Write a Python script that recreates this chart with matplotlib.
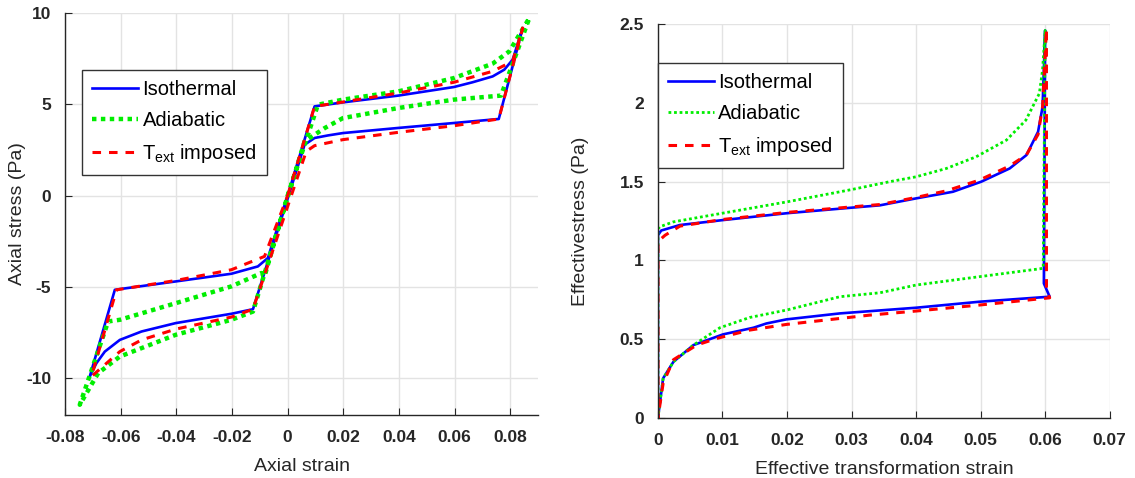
import matplotlib
matplotlib.use("Agg")
import matplotlib.pyplot as plt

plt.rcParams['font.family'] = ['Liberation Sans', 'DejaVu Sans']
plt.rcParams['mathtext.fontset'] = 'custom'
plt.rcParams['mathtext.rm'] = 'Liberation Sans'
plt.rcParams['axes.unicode_minus'] = False

# ---- left panel: axial stress vs axial strain ----
iso_strain = [0, 0.0097, 0.0199, 0.0398, 0.0598, 0.0665, 0.0737, 0.0779, 0.0809, 0.0845,
              0.0759, 0.0598, 0.0398, 0.0199, 0.0145, 0.0097, 0.0061,
              -0.01245, -0.0202, -0.0402, -0.0525, -0.0603, -0.0657, -0.0687, -0.0711,
              -0.0621, -0.0603, -0.0402, -0.0202, -0.0107, -0.0071, 0]
iso_stress = [0, 4.89, 5.11, 5.48, 5.95, 6.21, 6.53, 6.9, 7.45, 9.18,
              4.2, 3.98, 3.71, 3.43, 3.3, 3.16, 2.79,
              -6.21, -6.46, -6.97, -7.43, -7.89, -8.53, -9.16, -9.89,
              -5.15, -5.11, -4.69, -4.27, -3.87, -3.41, 0]

adi_strain = [0, 0.0109, 0.0199, 0.0398, 0.0598, 0.0737, 0.0797, 0.0869,
              0.0767, 0.0598, 0.0398, 0.0199, 0.0133, 0.0061,
              -0.01245, -0.0202, -0.0402, -0.0525, -0.0603, -0.0681, -0.0747,
              -0.0645, -0.0603, -0.0402, -0.0202, -0.0094, -0.0083, 0]
adi_stress = [0, 4.98, 5.26, 5.71, 6.44, 7.23, 7.9, 9.73,
              5.48, 5.26, 4.80, 4.25, 3.7, 2.97,
              -6.34, -6.79, -7.61, -8.34, -8.8, -9.71, -11.44,
              -6.88, -6.79, -5.88, -4.96, -4.23, -4.42, 0]

text_strain = [0, 0.0097, 0.0199, 0.0398, 0.0598, 0.0737, 0.0809, 0.0845,
               0.0759, 0.0598, 0.0398, 0.0199, 0.0097, 0.0067,
               -0.01245, -0.0202, -0.0402, -0.0525, -0.0603, -0.0657, -0.0705,
               -0.0615, -0.0402, -0.0202, -0.0083, 0]
text_stress = [0, 4.89, 5.13, 5.62, 6.21, 6.81, 7.36, 9.18,
               4.2, 3.83, 3.47, 3.07, 2.74, 2.43,
               -6.21, -6.64, -7.3, -7.89, -8.53, -9.25, -9.89,
               -5.15, -4.64, -4.05, -3.32, 0]

# ---- right panel: effective stress vs effective transformation strain ----
iso_eps = [0, 0, 0.0005, 0.0034, 0.01, 0.02, 0.03, 0.0344, 0.040, 0.0457, 0.0501, 0.0545,
           0.0571, 0.0589, 0.0596, 0.0600, 0.0598, 0.0607, 0.0498, 0.040, 0.0282, 0.0199,
           0.0168, 0.0148, 0.0101, 0.0055, 0.0024, 0.0008, 0]
iso_sig = [0, 1.16, 1.19, 1.225, 1.256, 1.30, 1.335, 1.35, 1.394, 1.436, 1.50, 1.584,
           1.669, 1.817, 1.975, 2.46, 0.854, 0.77, 0.738, 0.70, 0.664, 0.626,
           0.60, 0.573, 0.531, 0.463, 0.357, 0.252, 0]

adi_eps = [0, 0, 0.0003, 0.0024, 0.01, 0.02, 0.03, 0.0359, 0.040, 0.0447, 0.0493, 0.054,
           0.057, 0.0591, 0.0596, 0.0600, 0.0597, 0.0498, 0.040, 0.0344, 0.0282, 0.0199,
           0.0142, 0.0096, 0.0055, 0.0024, 0.0008, 0]
adi_sig = [0, 1.2, 1.214, 1.245, 1.30, 1.372, 1.45, 1.50, 1.531, 1.584, 1.658, 1.764,
           1.89, 2.06, 2.21, 2.46, 0.95, 0.897, 0.844, 0.795, 0.77, 0.685,
           0.638, 0.573, 0.463, 0.357, 0.25, 0]

text_eps = [0, 0, 0.0011, 0.0034, 0.01, 0.02, 0.03, 0.0344, 0.040, 0.0447, 0.0498, 0.0545,
            0.0571, 0.0589, 0.0596, 0.0602, 0.0602, 0.0607, 0.0498, 0.040, 0.0328, 0.0199,
            0.0142, 0.0091, 0.006, 0.0024, 0.0008, 0]
text_sig = [0, 1.12, 1.16, 1.218, 1.26, 1.305, 1.34, 1.355, 1.40, 1.442, 1.51, 1.60,
            1.67, 1.80, 1.975, 2.47, 0.81, 0.763, 0.717, 0.679, 0.653, 0.594,
            0.558, 0.505, 0.463, 0.37, 0.22, 0]

labels = ['Isothermal', 'Adiabatic', r'T$_{\mathrm{ext}}$ imposed']

left_xticks = [-0.08, -0.06, -0.04, -0.02, 0, 0.02, 0.04, 0.06, 0.08]
left_xticklabels = ['-0.08', '-0.06', '-0.04', '-0.02', '0', '0.02', '0.04', '0.06', '0.08']
left_yticks = [-10, -5, 0, 5, 10]
left_yticklabels = ['-10', '-5', '0', '5', '10']
right_xticks = [0, 0.01, 0.02, 0.03, 0.04, 0.05, 0.06, 0.07]
right_xticklabels = ['0', '0.01', '0.02', '0.03', '0.04', '0.05', '0.06', '0.07']
right_yticks = [0, 0.5, 1, 1.5, 2, 2.5]
right_yticklabels = ['0', '0.5', '1', '1.5', '2', '2.5']

fig = plt.figure(figsize=(11.35, 4.78), dpi=100)
ax1 = fig.add_axes([0.0573, 0.1318, 0.4167, 0.841])
ax2 = fig.add_axes([0.5797, 0.1255, 0.398, 0.824])


def style(ax):
    ax.grid(True, color='#e3e3e3', linewidth=1)
    ax.set_axisbelow(True)
    for s in ['top', 'right']:
        ax.spines[s].set_visible(False)
    for s in ['left', 'bottom']:
        ax.spines[s].set_color('#262626')
        ax.spines[s].set_linewidth(1)
    ax.tick_params(direction='in', length=5, color='#262626', labelcolor='#262626',
                   labelsize=12.5)
    ax.tick_params(axis='x', pad=11)
    ax.tick_params(axis='y', pad=10)
    for lab in ax.get_xticklabels() + ax.get_yticklabels():
        lab.set_fontweight('bold')


def add_legend(ax, anchor):
    leg = ax.legend(loc='upper left', bbox_to_anchor=anchor, fontsize=14.5,
                    fancybox=False, framealpha=1, edgecolor='#333333', borderpad=0.5,
                    handlelength=2.3, handletextpad=0.2, labelspacing=0.6, borderaxespad=0)
    leg.get_frame().set_linewidth(1)
    return leg


ax1.plot(iso_strain, iso_stress, color='#0000ff', lw=1.9, label=labels[0])
ax1.plot(adi_strain, adi_stress, color='#00ee00', lw=3.2, ls=(0, (1, 1)), label=labels[1])
ax1.plot(text_strain, text_stress, color='#ff0000', lw=2.2, ls=(0, (2.8, 2.6)), label=labels[2])
ax1.set_xlim(-0.08, 0.09)
ax1.set_ylim(-12, 10)
ax1.set_xticks(left_xticks)
ax1.set_xticklabels(left_xticklabels)
ax1.set_yticks(left_yticks)
ax1.set_yticklabels(left_yticklabels)
ax1.set_xlabel('Axial strain', fontsize=14, color='#262626', labelpad=9)
ax1.set_ylabel('Axial stress (Pa)', fontsize=14, color='#262626')
ax1.yaxis.set_label_coords(-0.082, 0.5)
style(ax1)
add_legend(ax1, (0.036, 0.858))

ax2.plot(iso_eps, iso_sig, color='#0000ff', lw=1.9, label=labels[0])
ax2.plot(adi_eps, adi_sig, color='#00ee00', lw=2.0, ls=(0, (1, 1)), label=labels[1])
ax2.plot(text_eps, text_sig, color='#ff0000', lw=2.2, ls=(0, (2.8, 2.6)), label=labels[2])
ax2.set_xlim(0, 0.07)
ax2.set_ylim(0, 2.5)
ax2.set_xticks(right_xticks)
ax2.set_xticklabels(right_xticklabels)
ax2.set_yticks(right_yticks)
ax2.set_yticklabels(right_yticklabels)
ax2.set_xlabel('Effective transformation strain', fontsize=14, color='#262626', labelpad=9)
ax2.set_ylabel('Effectivestress (Pa)', fontsize=14, color='#262626')
ax2.yaxis.set_label_coords(-0.152, 0.5)
style(ax2)
add_legend(ax2, (0.0, 0.901))

fig.savefig('out.png', dpi=100)
